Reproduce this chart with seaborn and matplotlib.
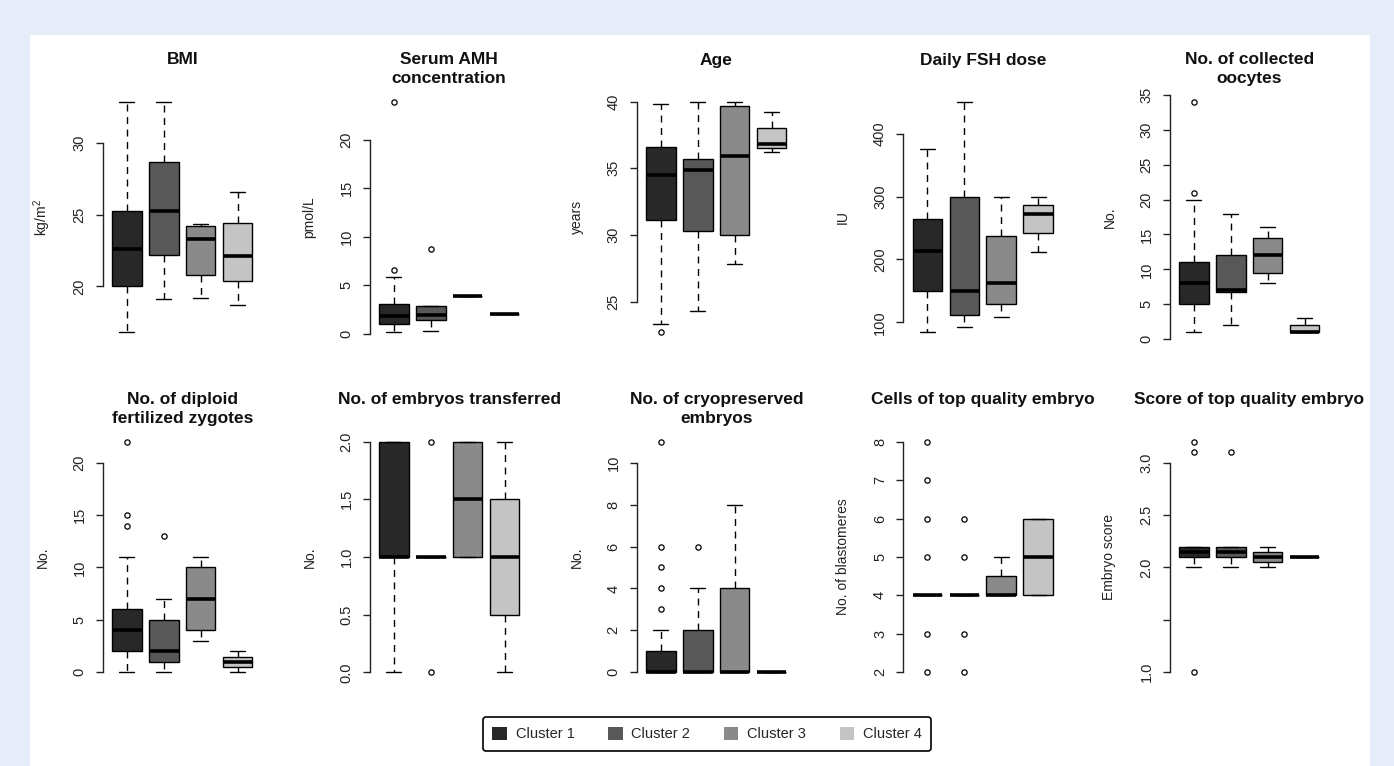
import matplotlib
matplotlib.use('Agg')
import matplotlib.pyplot as plt
from matplotlib.patches import Patch, Rectangle
import pandas as pd
import seaborn as sns

# clusters and fills
clusters = ['Cluster 1', 'Cluster 2', 'Cluster 3', 'Cluster 4']
colors = ['#282828', '#585858', '#8a8a8a', '#c4c4c4']

# per cluster: [lower whisker, q1, median, q3, upper whisker]
bmi = [[16.8, 20.0, 22.6, 25.3, 32.9], [19.1, 22.2, 25.3, 28.7, 32.9],
       [19.2, 20.8, 23.3, 24.2, 24.35], [18.7, 20.4, 22.1, 24.4, 26.6]]
bmi_out = [[], [], [], []]

amh = [[0.15, 1.0, 1.8, 3.1, 5.8], [0.3, 1.4, 1.95, 2.85, 2.85],
       [3.9, 3.9, 3.9, 3.9, 3.9], [2.0, 2.0, 2.0, 2.0, 2.0]]
amh_out = [[6.6, 23.9], [8.7], [], []]

age = [[23.3, 31.1, 34.5, 36.6, 39.8], [24.3, 30.3, 34.9, 35.7, 40.0],
       [27.8, 30.0, 35.9, 39.7, 40.0], [36.2, 36.55, 36.85, 38.0, 39.25]]
age_out = [[22.7], [], [], []]

fsh = [[84, 150, 214, 265, 376], [92, 112, 150, 300, 451],
       [108, 129, 163, 238, 300], [212, 242, 272, 286, 300]]
fsh_out = [[], [], [], []]

oocytes = [[1, 5, 8, 11, 20], [2, 6.75, 7, 12, 18],
           [8, 9.5, 12, 14.5, 16], [1, 1, 1, 2, 3]]
oocytes_out = [[21, 34], [], [], []]

zygotes = [[0, 2, 4, 6, 11], [0, 1, 2, 5, 7],
           [3, 4, 7, 10, 11], [0, 0.5, 1, 1.5, 2]]
zygotes_out = [[14, 15, 22], [13], [], []]

transferred = [[0, 1, 1, 2, 2], [1, 1, 1, 1, 1],
               [1, 1, 1.5, 2, 2], [0, 0.5, 1, 1.5, 2]]
transferred_out = [[], [0, 2], [], []]

cryo = [[0, 0, 0, 1, 2], [0, 0, 0, 2, 4],
        [0, 0, 0, 4, 8], [0, 0, 0, 0, 0]]
cryo_out = [[3, 4, 5, 6, 11], [6], [], []]

cells = [[4, 4, 4, 4, 4], [4, 4, 4, 4, 4],
         [4, 4, 4, 4.5, 5], [4, 4, 5, 6, 6]]
cells_out = [[2, 3, 5, 6, 7, 8], [2, 3, 5, 6], [], []]

score = [[2.0, 2.1, 2.15, 2.2, 2.2], [2.0, 2.1, 2.15, 2.2, 2.2],
         [2.0, 2.05, 2.1, 2.15, 2.2], [2.1, 2.1, 2.1, 2.1, 2.1]]
score_out = [[1.0, 3.1, 3.2], [3.1], [], []]

panels = [
    ('BMI', 'kg/m$^2$', bmi, bmi_out, [20, 25, 30], None),
    ('Serum AMH\nconcentration', 'pmol/L', amh, amh_out, [0, 5, 10, 15, 20], None),
    ('Age', 'years', age, age_out, [25, 30, 35, 40], None),
    ('Daily FSH dose', 'IU', fsh, fsh_out, [100, 200, 300, 400], None),
    ('No. of collected\noocytes', 'No.', oocytes, oocytes_out, [0, 5, 10, 15, 20, 25, 30, 35], None),
    ('No. of diploid\nfertilized zygotes', 'No.', zygotes, zygotes_out, [0, 5, 10, 15, 20], None),
    ('No. of embryos transferred', 'No.', transferred, transferred_out,
     [0.0, 0.5, 1.0, 1.5, 2.0], ['0.0', '0.5', '1.0', '1.5', '2.0']),
    ('No. of cryopreserved\nembryos', 'No.', cryo, cryo_out, [0, 2, 4, 6, 8, 10], None),
    ('Cells of top quality embryo', 'No. of blastomeres', cells, cells_out, [2, 3, 4, 5, 6, 7, 8], None),
    ('Score of top quality embryo', 'Embryo score', score, score_out,
     [1.0, 1.5, 2.0, 2.5, 3.0], ['1.0', '', '2.0', '2.5', '3.0']),
]

sns.set_style('white')
plt.rcParams['font.family'] = ['Liberation Sans', 'DejaVu Sans']
plt.rcParams['mathtext.fontset'] = 'custom'
plt.rcParams['mathtext.rm'] = 'Liberation Sans'

W, H = 1394, 766
fig = plt.figure(figsize=(W / 100, H / 100), dpi=100)
fig.patch.set_facecolor('#e6edf8')
fig.patches.append(Rectangle((30 / W, 0), 1340 / W, 1 - 35 / H, transform=fig.transFigure,
                             facecolor='white', edgecolor='none', zorder=-10))

lefts = [102.5, 369.5, 636.5, 903, 1169.5]
tops = [92.5, 432.5]
aw, ah = 159.5, 249

for i, (title, ylab, stats, outs, ticks, ticklabels) in enumerate(panels):
    left = lefts[i % 5]
    top = tops[i // 5]
    ax = fig.add_axes([left / W, 1 - (top + ah) / H, aw / W, ah / H])
    ax.patch.set_alpha(0)

    rows = [(c, v) for c, vals in zip(clusters, stats) for v in vals]
    df = pd.DataFrame(rows, columns=['cluster', 'value'])
    sns.boxplot(data=df, x='cluster', y='value', hue='cluster', order=clusters,
                hue_order=clusters, palette=colors, legend=False, whis=(0, 100),
                width=0.8, linecolor='black', linewidth=1.0, showfliers=False,
                medianprops=dict(linewidth=2.6, solid_capstyle='butt'),
                whiskerprops=dict(linestyle=(0, (5, 4))), ax=ax)

    orows = [(c, v) for c, vals in zip(clusters, outs) for v in vals]
    if orows:
        odf = pd.DataFrame(orows, columns=['cluster', 'value'])
        sns.stripplot(data=odf, x='cluster', y='value', order=clusters, jitter=False,
                      color='white', edgecolor='black', linewidth=0.9, size=3.8, ax=ax)

    allv = [v for vals in stats for v in vals] + [v for vals in outs for v in vals]
    lo, hi = min(allv), max(allv)
    r = hi - lo
    ax.set_ylim(lo - 0.04 * r, hi + 0.04 * r)
    ax.set_xlim(-0.66, 3.66)

    ax.set_yticks(ticks)
    if ticklabels is not None:
        ax.set_yticklabels(ticklabels)
    ax.tick_params(axis='y', left=True, length=5, width=1, pad=6.5, labelsize=10.5,
                   labelrotation=90, colors='#222222')
    for lab in ax.get_yticklabels():
        lab.set_va('center')
    ax.set_xticks([])
    ax.set_xlabel('')
    for s in ['top', 'right', 'bottom']:
        ax.spines[s].set_visible(False)
    ax.spines['left'].set_bounds(ticks[0], ticks[-1])
    ax.spines['left'].set_color('#222222')
    ax.spines['left'].set_linewidth(1)

    ax.set_ylabel(ylab, fontsize=10, color='#222222')
    ax.yaxis.set_label_coords(-60 / aw, 0.5)
    ax.yaxis.label.set_va('center')

    ax.text(0.5, 1 + 40 / ah, title, transform=ax.transAxes, ha='center', va='top',
            fontsize=12.5, fontweight='bold', linespacing=1.3, color='#111111')

handles = [Patch(facecolor=c, edgecolor='none', label=l) for c, l in zip(colors, clusters)]
leg = fig.legend(handles=handles, loc='center', bbox_to_anchor=(707 / W, 1 - 734 / H),
                 ncol=4, frameon=True, fancybox=True, fontsize=10.5, handlelength=1.0,
                 handleheight=1.0, handletextpad=0.6, columnspacing=2.3, borderpad=0.65)
frame = leg.get_frame()
frame.set_edgecolor('black')
frame.set_linewidth(1.2)
frame.set_facecolor('white')
frame.set_alpha(1)

fig.savefig('out.png', dpi=100, facecolor=fig.get_facecolor())
